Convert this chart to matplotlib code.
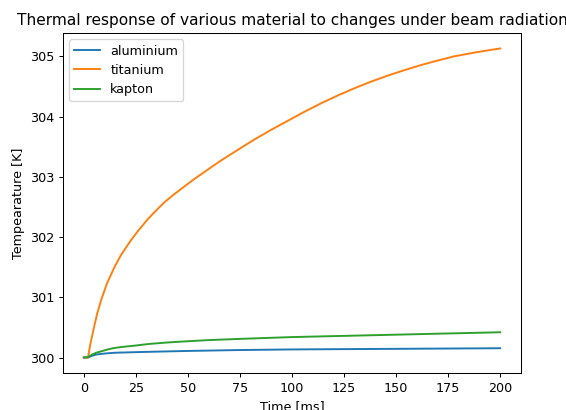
import matplotlib.pyplot as plt

# values
time_ti = [0, 2, 3, 5, 6.5, 8.3, 11, 14.7, 18, 22.7, 26, 30.8, 35, 38.8, 43, 46.8, 51, 55, 60,
           65, 70, 75, 82, 90, 98, 106, 114, 122, 130, 138, 146, 154, 162, 170, 178, 189, 200]
temp_ti = [300.0, 300.0, 300.2, 300.52, 300.74, 300.95, 301.22, 301.50, 301.71, 301.95, 302.10,
           302.30, 302.45, 302.58, 302.70, 302.80, 302.91, 303.01, 303.13, 303.25, 303.36,
           303.47, 303.62, 303.78, 303.93, 304.08, 304.22, 304.35, 304.47, 304.58, 304.68,
           304.77, 304.855, 304.93, 305.00, 305.07, 305.13]

time_al = [0, 2, 4, 6, 8, 11, 15, 25, 31, 50, 75, 100, 125, 150, 175, 200]
temp_al = [300.0, 300.0, 300.03, 300.05, 300.06, 300.07, 300.08, 300.09, 300.095, 300.11,
           300.125, 300.135, 300.14, 300.145, 300.15, 300.155]

time_ka = [0, 2, 4, 6, 8, 11, 14, 18, 25, 31, 40, 47, 60, 75, 100, 125, 150, 175, 200]
temp_ka = [300.0, 300.01, 300.05, 300.08, 300.10, 300.13, 300.155, 300.175, 300.20, 300.225,
           300.25, 300.265, 300.29, 300.31, 300.34, 300.36, 300.38, 300.40, 300.42]

fig = plt.figure(figsize=(566 / 92, 410 / 92), dpi=92)
ax = fig.add_axes([0.1113, 0.0902, 0.8092, 0.8293])

ax.plot(time_al, temp_al, label="aluminium")
ax.plot(time_ti, temp_ti, label="titanium")
ax.plot(time_ka, temp_ka, label="kapton")

ax.set_title("Thermal response of various material to changes under beam radiation")
ax.set_xlabel("Time [ms]")
ax.set_ylabel("Tempearature [K]")
ax.legend(loc="upper left")

fig.savefig("out.png", dpi=92)
